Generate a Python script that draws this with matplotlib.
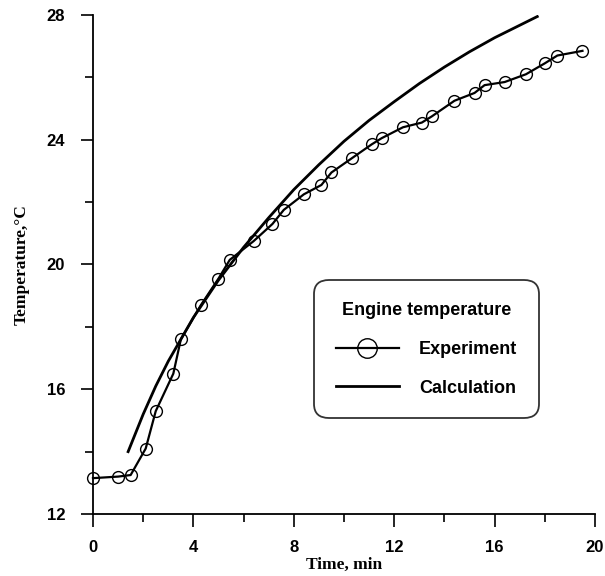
import matplotlib
matplotlib.use("Agg")
import matplotlib.pyplot as plt
from matplotlib.ticker import MultipleLocator

exp_time = [0, 1.0, 1.5, 2.1, 2.5, 3.2, 3.5, 4.3, 5.0, 5.45, 6.4, 7.15, 7.6, 8.4, 9.1, 9.5,
            10.3, 11.1, 11.5, 12.35, 13.1, 13.5, 14.4, 15.2, 15.6, 16.4, 17.25, 18.0, 18.5, 19.5]
exp_temp = [13.15, 13.2, 13.25, 14.1, 15.3, 16.5, 17.6, 18.7, 19.55, 20.15, 20.75, 21.3, 21.75,
            22.25, 22.55, 22.95, 23.4, 23.85, 24.05, 24.4, 24.55, 24.75, 25.25, 25.5, 25.75,
            25.85, 26.1, 26.45, 26.7, 26.85]

calc_time = [1.4, 2.0, 2.5, 3.0, 3.5, 4.0, 5.0, 6.0, 7.0, 8.0, 9.0, 10.0, 11.0, 12.0, 13.0,
             14.0, 15.0, 16.0, 17.0, 17.7]
calc_temp = [14.0, 15.2, 16.1, 16.9, 17.6, 18.3, 19.5, 20.55, 21.5, 22.4, 23.2, 23.95, 24.62,
             25.22, 25.8, 26.33, 26.82, 27.27, 27.67, 27.95]

fig = plt.figure(figsize=(6.05, 5.76), dpi=100)
ax = fig.add_axes([0.1537, 0.1076, 0.8298, 0.8664])

ax.plot(exp_time, exp_temp, color="black", lw=1.6, marker="o", ms=8.5,
        mfc="none", mec="black", mew=1.0, label="Experiment", clip_on=False)
ax.plot(calc_time, calc_temp, color="black", lw=2.0, label="Calculation")

ax.set_xlim(0, 20)
ax.set_ylim(12, 28)
ax.xaxis.set_major_locator(MultipleLocator(4))
ax.xaxis.set_minor_locator(MultipleLocator(2))
ax.yaxis.set_major_locator(MultipleLocator(4))
ax.yaxis.set_minor_locator(MultipleLocator(2))
ax.tick_params(which="major", direction="out", length=9, width=1.2)
ax.tick_params(which="minor", direction="out", length=6, width=1.2)
ax.tick_params(axis="x", which="major", pad=10)
ax.tick_params(axis="y", which="major", pad=11)
for s in ["top", "right"]:
    ax.spines[s].set_visible(False)
for s in ["left", "bottom"]:
    ax.spines[s].set_linewidth(1.3)

for lab in ax.get_xticklabels() + ax.get_yticklabels():
    lab.set_fontfamily("Liberation Sans")
    lab.set_fontweight("bold")
    lab.set_fontsize(12)

ax.set_xlabel("Time, min", family="Liberation Serif", fontweight="bold", fontsize=12.5, labelpad=1)
ax.set_ylabel("Temperature,°C", family="Liberation Serif", fontweight="bold", fontsize=12.5, labelpad=12)

leg = ax.legend(loc="upper left", bbox_to_anchor=(0.4405, 0.469), borderaxespad=0,
                title="Engine temperature",
                fancybox=True, frameon=True, edgecolor="black", handlelength=3.5,
                markerscale=1.65, borderpad=1.2, labelspacing=1.2, handletextpad=1.1,
                prop={"family": "Liberation Sans", "weight": "bold", "size": 13})
leg.get_title().set_fontfamily("Liberation Sans")
leg.get_title().set_fontweight("bold")
leg.get_title().set_fontsize(13)
leg.get_frame().set_linewidth(1.3)
leg.get_frame().set_boxstyle("round,pad=0,rounding_size=0.8")
leg._legend_box.sep = 16

fig.savefig("out.png", dpi=100)
